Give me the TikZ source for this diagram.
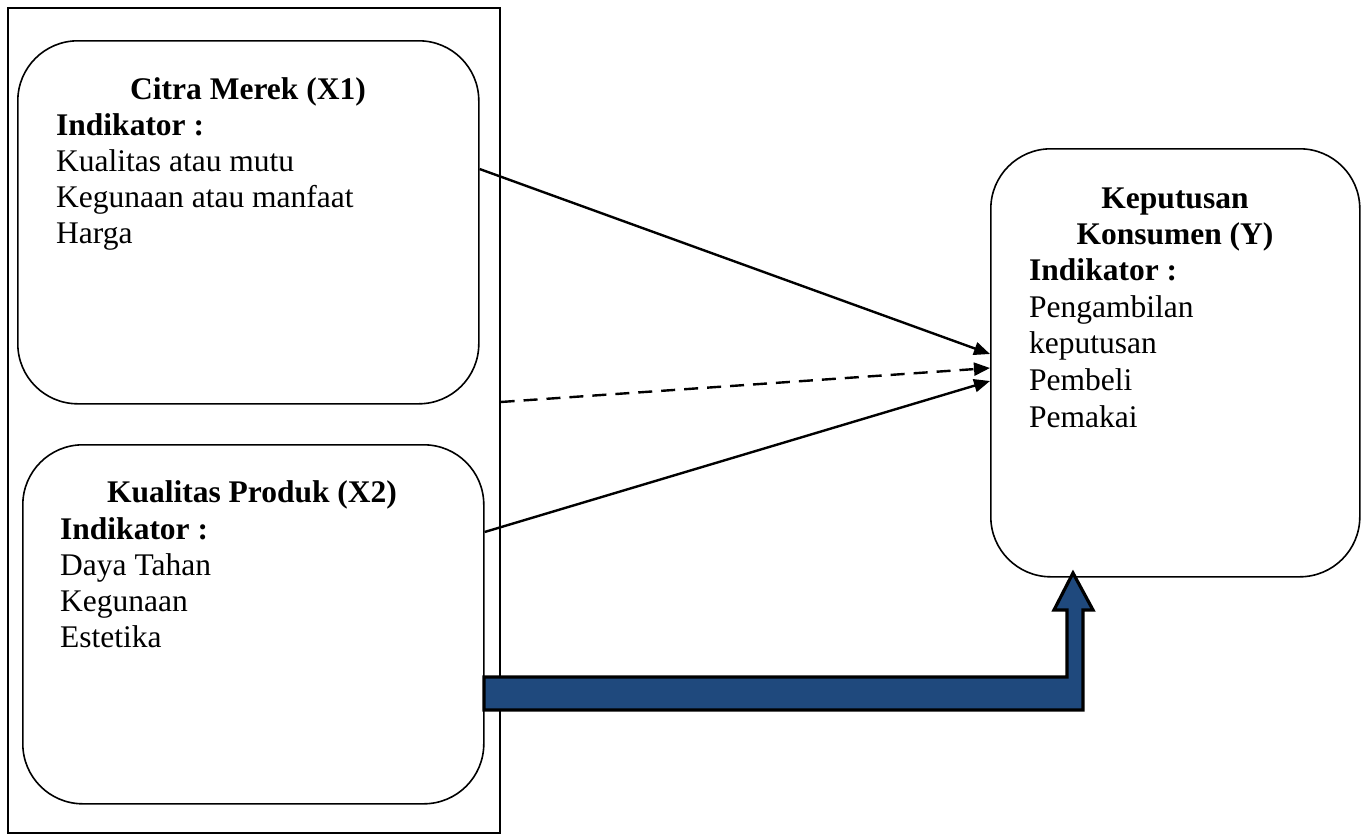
\documentclass[tikz,border=0pt]{standalone}
\usepackage{fontspec}
\setmainfont{Liberation Serif}
\usetikzlibrary{arrows.meta}
\definecolor{arrowblue}{HTML}{1F497D}
\tikzset{
  box/.style={draw=black, line width=1.6pt, rounded corners=60pt, anchor=north west, inner sep=0pt},
  frame/.style={draw=black, line width=1.6pt},
  ttl/.style={anchor=base, inner sep=0pt, font=\fontsize{31.5}{36}\selectfont\bfseries},
  hdr/.style={anchor=base west, inner sep=0pt, font=\fontsize{31.5}{36}\selectfont\bfseries},
  itm/.style={anchor=base west, inner sep=0pt, font=\fontsize{31.5}{36}\selectfont},
  conn/.style={draw=black, line width=2.4pt, -{Triangle[length=16pt,width=13pt]}},
  bigarrow/.style={draw=black, line width=3.2pt, fill=arrowblue, line join=miter}
}
\begin{document}
\begin{tikzpicture}[x=1pt,y=-1pt]
\useasboundingbox (0,0) rectangle (1368,839);
% outer frame
\node[frame, anchor=north west, minimum width=492pt, minimum height=825pt, inner sep=0pt] (outer) at (7,7) {};
% boxes
\node[box, minimum width=461pt, minimum height=363pt] (x1) at (17,40) {};
\node[box, minimum width=461pt, minimum height=359pt] (x2) at (22,444) {};
\node[box, minimum width=369pt, minimum height=428pt] (y) at (990,148) {};
% X1 text
\node[ttl] (x1t) at (248,99) {Citra Merek (X1)};
\node[hdr] (x1h) at (56,135) {Indikator :};
\node[itm] (x1a) at (56,171) {Kualitas atau mutu};
\node[itm] (x1b) at (56,207) {Kegunaan atau manfaat};
\node[itm] (x1c) at (56,243) {Harga};
% X2 text
\node[ttl] (x2t) at (252,502) {Kualitas Produk (X2)};
\node[hdr] (x2h) at (60,539) {Indikator :};
\node[itm] (x2a) at (60,575) {Daya Tahan};
\node[itm] (x2b) at (60,611) {Kegunaan};
\node[itm] (x2c) at (60,647) {Estetika};
% Y text
\node[ttl] (yt1) at (1175,208) {Keputusan};
\node[ttl] (yt2) at (1175,244) {Konsumen (Y)};
\node[hdr] (yh) at (1029,280) {Indikator :};
\node[itm] (ya) at (1029,317) {Pengambilan};
\node[itm] (yb) at (1029,353) {keputusan};
\node[itm] (yc) at (1029,390) {Pembeli};
\node[itm] (yd) at (1029,427) {Pemakai};
% connector endpoints
\coordinate (s1) at (x1.north east |- 0,169);
\coordinate (t1) at (y.west |- 0,354);
\coordinate (s2) at (outer.east |- 0,402);
\coordinate (t2) at (y.west |- 0,368);
\coordinate (s3) at (x2.north east |- 0,532);
\coordinate (t3) at (y.west |- 0,381);
\draw[conn] (s1) -- (t1);
\draw[conn, dash pattern=on 14pt off 9pt] (s2) -- (t2);
\draw[conn] (s3) -- (t3);
% big blue arrow
\draw[bigarrow] (484,677) -- (1067,677) -- (1067,610) -- (1054,610) -- (1073,573) -- (1093,610) -- (1083,610) -- (1083,710) -- (484,710) -- cycle;
\end{tikzpicture}
\end{document}
